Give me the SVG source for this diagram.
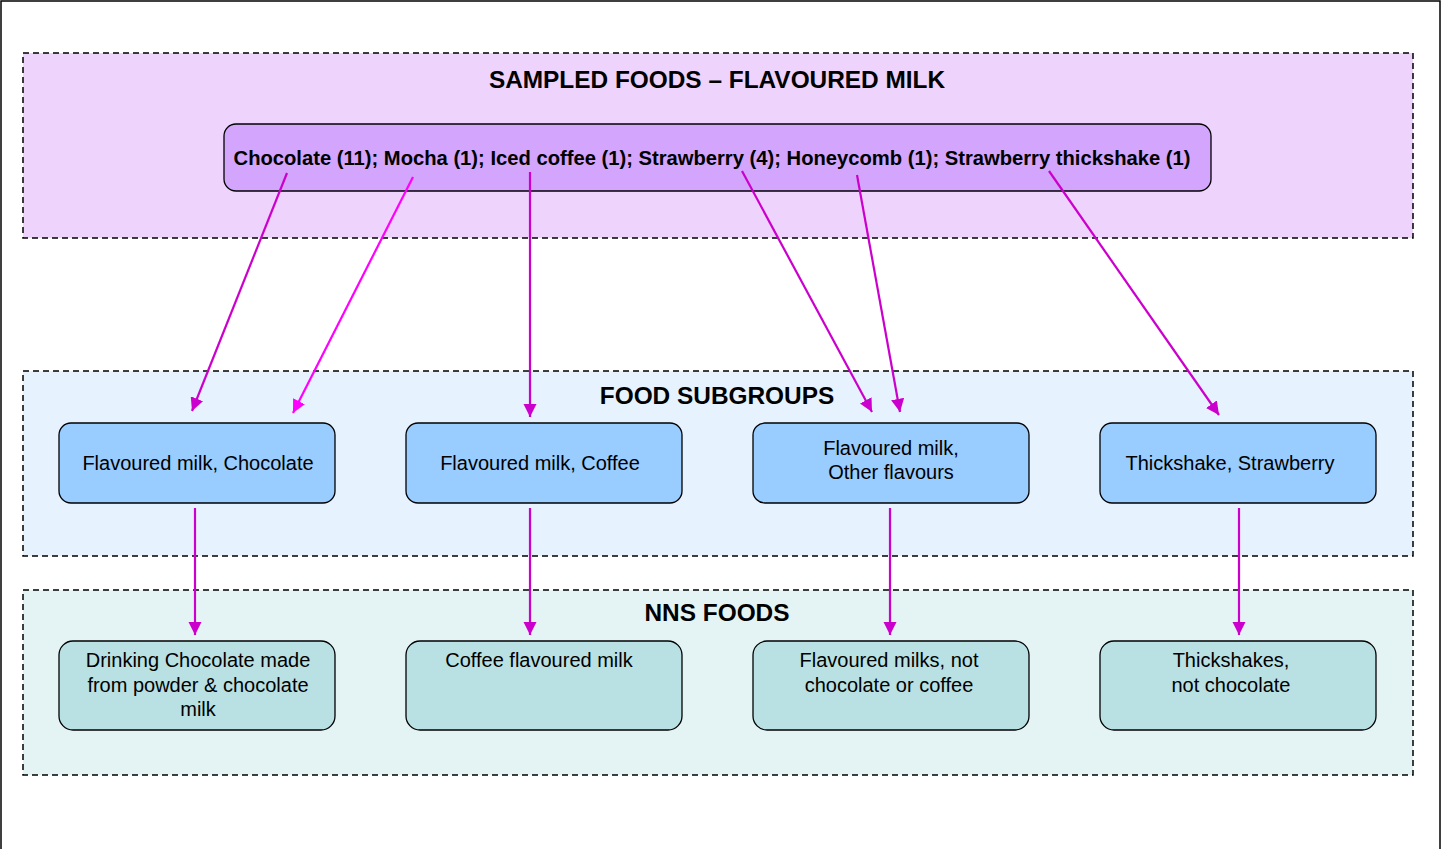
<svg xmlns="http://www.w3.org/2000/svg" width="1442" height="849" viewBox="0 0 1442 849">
<style>
.sec{stroke:#000;stroke-width:1.5;stroke-dasharray:6,4}
.node{stroke:#000;stroke-width:1.3}
.title{font-family:"Liberation Sans",Arial,sans-serif;font-weight:bold;font-size:24.4px;text-anchor:middle;fill:#000}
.lbl{font-family:"Liberation Sans",Arial,sans-serif;font-size:20px;text-anchor:middle;fill:#000}
.blbl{font-family:"Liberation Sans",Arial,sans-serif;font-weight:bold;font-size:20.2px;text-anchor:middle;fill:#000}
.c1{stroke:#CC00CC;stroke-width:2.2;fill:none}
.c2{stroke:#FF00FF;stroke-width:2.2;fill:none}
</style>
<defs>
<marker id="a1" viewBox="0 0 10 10" refX="10" refY="5" markerWidth="6" markerHeight="6" orient="auto" markerUnits="strokeWidth"><path d="M0,0 L10,5 L0,10 z" fill="#CC00CC"/></marker>
<marker id="a2" viewBox="0 0 10 10" refX="10" refY="5" markerWidth="6" markerHeight="6" orient="auto" markerUnits="strokeWidth"><path d="M0,0 L10,5 L0,10 z" fill="#FF00FF"/></marker>
</defs>
<rect x="0" y="0" width="1442" height="849" fill="#fff"/>
<rect x="1" y="1" width="1439" height="852" fill="none" stroke="#000" stroke-width="1.5"/>

<g id="sec-sampled">
<rect class="sec" x="23" y="53" width="1390" height="185" fill="#EED3FC"/>
<text class="title" x="717" y="88">SAMPLED FOODS – FLAVOURED MILK</text>
</g>
<g id="sec-subgroups">
<rect class="sec" x="23" y="371" width="1390" height="185" fill="#E6F2FE"/>
<text class="title" x="717" y="404">FOOD SUBGROUPS</text>
</g>
<g id="sec-nns">
<rect class="sec" x="23" y="590" width="1390" height="185" fill="#E4F3F4"/>
<text class="title" x="717" y="621">NNS FOODS</text>
</g>

<g id="n-sampled">
<rect class="node" x="224" y="124" width="987" height="67" rx="12" fill="#D3A5FC"/>
<text class="blbl" x="712" y="165">Chocolate (11); Mocha (1); Iced coffee (1); Strawberry (4); Honeycomb (1); Strawberry thickshake (1)</text>
</g>

<g id="n-sg-choc">
<rect class="node" x="59" y="423" width="276" height="80" rx="12" fill="#99CCFF"/>
<text class="lbl" x="198" y="470">Flavoured milk, Chocolate</text>
</g>
<g id="n-sg-coffee">
<rect class="node" x="406" y="423" width="276" height="80" rx="12" fill="#99CCFF"/>
<text class="lbl" x="540" y="470">Flavoured milk, Coffee</text>
</g>
<g id="n-sg-other">
<rect class="node" x="753" y="423" width="276" height="80" rx="12" fill="#99CCFF"/>
<text class="lbl" x="891" y="455">Flavoured milk,</text>
<text class="lbl" x="891" y="479">Other flavours</text>
</g>
<g id="n-sg-thick">
<rect class="node" x="1100" y="423" width="276" height="80" rx="12" fill="#99CCFF"/>
<text class="lbl" x="1230" y="470">Thickshake, Strawberry</text>
</g>

<g id="n-nns-choc">
<rect class="node" x="59" y="641" width="276" height="89" rx="14" fill="#B9E0E3"/>
<text class="lbl" x="198" y="667">Drinking Chocolate made</text>
<text class="lbl" x="198" y="692">from powder &amp; chocolate</text>
<text class="lbl" x="198" y="716">milk</text>
</g>
<g id="n-nns-coffee">
<rect class="node" x="406" y="641" width="276" height="89" rx="14" fill="#B9E0E3"/>
<text class="lbl" x="539" y="667">Coffee flavoured milk</text>
</g>
<g id="n-nns-other">
<rect class="node" x="753" y="641" width="276" height="89" rx="14" fill="#B9E0E3"/>
<text class="lbl" x="889" y="667">Flavoured milks, not</text>
<text class="lbl" x="889" y="692">chocolate or coffee</text>
</g>
<g id="n-nns-thick">
<rect class="node" x="1100" y="641" width="276" height="89" rx="14" fill="#B9E0E3"/>
<text class="lbl" x="1231" y="667">Thickshakes,</text>
<text class="lbl" x="1231" y="692">not chocolate</text>
</g>

<g id="connectors">
<line class="c1" x1="287" y1="173" x2="192" y2="411" marker-end="url(#a1)"/>
<line class="c2" x1="413" y1="177" x2="293" y2="413" marker-end="url(#a2)"/>
<line class="c1" x1="530" y1="172" x2="530" y2="417" marker-end="url(#a1)"/>
<line class="c1" x1="742" y1="171" x2="872" y2="412" marker-end="url(#a1)"/>
<line class="c1" x1="857" y1="175" x2="900" y2="412" marker-end="url(#a1)"/>
<line class="c1" x1="1049" y1="171" x2="1219" y2="415" marker-end="url(#a1)"/>
<line class="c1" x1="195" y1="508" x2="195" y2="635" marker-end="url(#a1)"/>
<line class="c1" x1="530" y1="508" x2="530" y2="635" marker-end="url(#a1)"/>
<line class="c1" x1="890" y1="508" x2="890" y2="635" marker-end="url(#a1)"/>
<line class="c1" x1="1239" y1="508" x2="1239" y2="635" marker-end="url(#a1)"/>
</g>
</svg>
